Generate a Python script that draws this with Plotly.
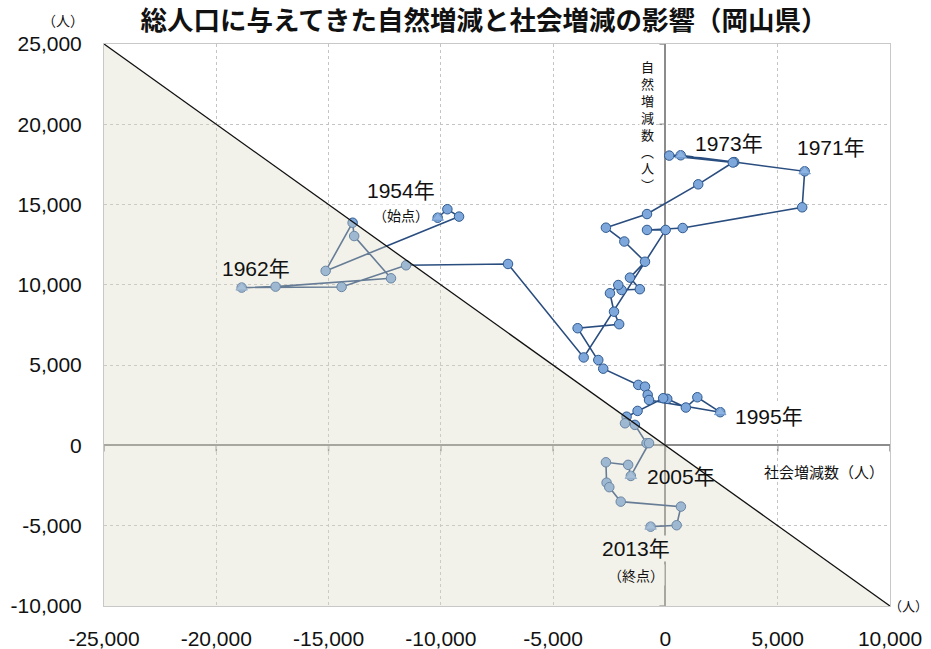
import plotly.graph_objects as go

# ---- data (人) ----
social_change = [
    -10140, -9710, -9190, -15130, -13930, -13860, -12220, -17360, -18870,
    -14420, -11550, -7010, -3640, 10, -820, 770, 6090, 6200, 3060, 680,
    170, 3000, 1460, -820, -2650, -1830, -910, -1580, -1140, -1950, -2100,
    -2470, -2290, -2060, -3910, -2990, -2770, -1210, -910, -790, -730,
    2440, 1420, 910, 80, -100, -1240, -1730, -1800, -1360, -840, -730,
    -1540, -1660, -2650, -2620, -2500, -1990, 690, 500, -660,
]
natural_change = [
    14180, 14710, 14250, 10870, 13870, 13040, 10410, 9890, 9830,
    9870, 11220, 11300, 5480, 13420, 13420, 13540, 14830, 17070, 17650, 18070,
    18050, 17620, 16260, 14410, 13560, 12700, 11440, 10450, 9730, 9680, 9990,
    9480, 8330, 7550, 7300, 5320, 4780, 3770, 3660, 3150, 2830,
    2070, 3000, 2360, 2900, 2940, 2150, 1790, 1380, 1280, 140, 140,
    -1900, -1210, -1050, -2320, -2600, -3500, -3810, -4970, -5060,
]
key_index = [0, 8, 17, 19, 41, 52, 60]
key_labels = ["1954年", "1962年", "1971年", "1973年", "1995年", "2005年", "2013年"]
key_sublabels = {0: "（始点）", 60: "（終点）"}

x_tick_vals = [-25000, -20000, -15000, -10000, -5000, 0, 5000, 10000]
x_tick_text = ["-25,000", "-20,000", "-15,000", "-10,000", "-5,000", "0", "5,000", "10,000"]
y_tick_vals = [-10000, -5000, 0, 5000, 10000, 15000, 20000, 25000]
y_tick_text = ["-10,000", "-5,000", "0", "5,000", "10,000", "15,000", "20,000", "25,000"]

title_text = "総人口に与えてきた自然増減と社会増減の影響（岡山県）"
y_title = "自然増減数（人）"
x_title = "社会増減数（人）"
unit_text = "（人）"

# ---- styling ----
X_MIN, X_MAX = x_tick_vals[0], x_tick_vals[-1]
Y_MIN, Y_MAX = y_tick_vals[0], y_tick_vals[-1]
LAT = "Liberation Sans, Noto Sans CJK JP, sans-serif"
CJK = "Noto Sans CJK JP, sans-serif"
LINE_C = "#2A4D7F"
FILL_C = "#7EA8DB"
SHADE_BG = "rgb(242,241,234)"

fig = go.Figure()
fig.add_trace(go.Scatter(
    x=social_change, y=natural_change, mode="lines+markers",
    line=dict(color=LINE_C, width=1.6),
    marker=dict(symbol="circle", size=9.5, color=FILL_C,
                line=dict(color="#2F5A90", width=1)),
    hoverinfo="x+y", showlegend=False,
))
fig.add_trace(go.Scatter(
    x=[social_change[i] for i in key_index],
    y=[natural_change[i] for i in key_index],
    mode="markers",
    marker=dict(symbol="triangle-up", size=10, color="#8DB3E2",
                line=dict(color="#6F98CB", width=1)),
    hoverinfo="skip", showlegend=False,
))

# label offsets (pixels) relative to their points
label_shift = {0: (-37, 27), 8: (14, 19), 17: (26, 24), 19: (48, 12),
               41: (49, -4), 52: (50, -1), 60: (-15, -22)}
label_bg = {0: "white", 8: SHADE_BG, 17: "white", 19: "white",
            41: "white", 52: None, 60: SHADE_BG}
sub_shift = {0: (-37, 3), 60: (-15, -48)}
annotations = []
for i, txt in zip(key_index, key_labels):
    sx, sy = label_shift[i]
    annotations.append(dict(
        x=social_change[i], y=natural_change[i], xref="x", yref="y",
        text=txt, showarrow=False, xshift=sx, yshift=sy,
        font=dict(family=LAT, size=21, color="#111"),
        bgcolor=label_bg[i], borderpad=1,
    ))
    if i in key_sublabels:
        ssx, ssy = sub_shift[i]
        annotations.append(dict(
            x=social_change[i], y=natural_change[i], xref="x", yref="y",
            text=key_sublabels[i], showarrow=False, xshift=ssx, yshift=ssy,
            font=dict(family=CJK, size=14, color="#111"),
            bgcolor=label_bg[i], borderpad=0,
        ))

# axis titles
annotations.append(dict(
    x=0, y=Y_MAX, xref="x", yref="y", xanchor="center", yanchor="top",
    xshift=-18, yshift=-11,
    text="<br>".join(list(y_title.replace("（", "︵").replace("）", "︶"))),
    showarrow=False, font=dict(family=CJK, size=13, color="#111"),
    bgcolor="white", align="center",
))
annotations.append(dict(
    x=X_MAX, y=0, xref="x", yref="y", xanchor="right", yanchor="top",
    xshift=-4, yshift=-14, text=x_title, showarrow=False,
    font=dict(family=CJK, size=15, color="#111"),
))
annotations.append(dict(
    x=X_MIN, y=Y_MAX, xref="x", yref="y", xanchor="right", yanchor="bottom",
    xshift=-18, yshift=12, text=unit_text, showarrow=False,
    font=dict(family=CJK, size=14, color="#111"),
))
annotations.append(dict(
    x=1, y=Y_MIN, xref="paper", yref="y", xanchor="right", yanchor="middle",
    xshift=40, yshift=1, text=unit_text, showarrow=False,
    font=dict(family=CJK, size=13, color="#111"),
))

shapes = [
    dict(type="path", xref="x", yref="y", layer="above",
         path=f"M {X_MIN},{Y_MAX} L {X_MIN},{Y_MIN} L {X_MAX},{Y_MIN} Z",
         fillcolor="rgba(218,215,195,0.35)", line=dict(width=0)),
    dict(type="line", xref="x", yref="y", layer="above",
         x0=X_MIN, y0=Y_MAX, x1=X_MAX, y1=Y_MIN,
         line=dict(color="#111", width=1.3)),
]
for v in y_tick_vals:
    shapes.append(dict(type="line", xref="x", yref="y", xsizemode="pixel",
                       xanchor=0, x0=-6, x1=0, y0=v, y1=v, layer="below",
                       line=dict(color="#8C8C8C", width=1.5)))
for v in x_tick_vals:
    shapes.append(dict(type="line", xref="x", yref="y", ysizemode="pixel",
                       yanchor=0, y0=-6, y1=0, x0=v, x1=v, layer="below",
                       line=dict(color="#8C8C8C", width=1.5)))

axis_common = dict(
    showgrid=True, gridcolor="#C4C4C4", griddash="3px,3px", gridwidth=1,
    zeroline=True, zerolinecolor="#8C8C8C", zerolinewidth=2,
    showline=True, mirror=True, linecolor="#C8C8C8", linewidth=1,
    ticks="", tickfont=dict(family=LAT, size=21, color="#111"),
    automargin=False,
)
fig.update_layout(
    width=931, height=649,
    margin=dict(l=104, r=41, t=44, b=43),
    paper_bgcolor="white", plot_bgcolor="white",
    title=dict(text=f"<b>{title_text}</b>", x=484 / 931, xanchor="center",
               y=1 - 21 / 649, yanchor="middle", xref="container",
               yref="container", automargin=False,
               font=dict(family=CJK, size=26.5, color="#111")),
    xaxis=dict(range=[X_MIN, X_MAX], tickvals=x_tick_vals, ticktext=x_tick_text,
               ticklabelstandoff=14, **axis_common),
    yaxis=dict(range=[Y_MIN, Y_MAX], tickvals=y_tick_vals, ticktext=y_tick_text,
               ticklabelstandoff=17, **axis_common),
    annotations=annotations,
    shapes=shapes,
)
fig.write_html("out.html", config={"displayModeBar": False},
               post_script="document.body.style.margin='0';")
